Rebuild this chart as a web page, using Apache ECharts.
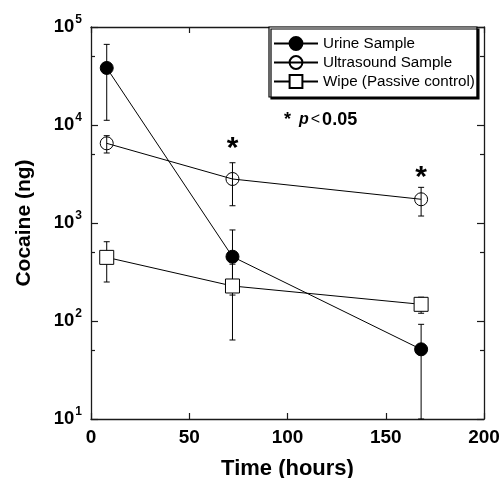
<!DOCTYPE html>
<html><head><meta charset="utf-8">
<script src="https://cdn.jsdelivr.net/npm/echarts@6/dist/echarts.min.js"></script>
<style>html,body{margin:0;padding:0;background:#fff}#c{width:500px;height:478px}</style>
</head><body><div id="c"></div>
<script>
// ---- data ----
const hours = [8, 72, 168];
const urineMean = [38200, 453, 51.4];
const urineLow = [11170, 184, 10];
const urineHigh = [66500, 849, 92.5];
const ultraMean = [6500, 2812, 1746];
const ultraLow = [5180, 1500, 1178];
const ultraHigh = [7780, 4120, 2312];
const wipeMean = [446, 227.6, 148];
const wipeLow = [250, 64, 120];
const wipeHigh = [644, 380, 175];
const starHours = [72, 168];
const starLevels = [6550, 3311];
const xTicks = [0, 50, 100, 150, 200];
const yMinorTicks = [50, 500, 5000, 50000];

const FONT = 'Liberation Sans, Arial, Helvetica, sans-serif';
const AX = '#1a1a1a';

function pairs(xs, ys){ return xs.map((x,i)=>[x, ys[i]]); }
function errData(lo, hi){ return hours.map((x,i)=>[x, lo[i], hi[i]]); }

function errRender(params, api){
  const x = api.value(0), lo = api.value(1), hi = api.value(2);
  const pLo = api.coord([x, lo]), pHi = api.coord([x, hi]);
  const c = 3;
  const st = {stroke: '#000', lineWidth: 1};
  return {type:'group', children:[
    {type:'line', shape:{x1:pLo[0], y1:pLo[1], x2:pHi[0], y2:pHi[1]}, style:st},
    {type:'line', shape:{x1:pLo[0]-c, y1:pLo[1], x2:pLo[0]+c, y2:pLo[1]}, style:st},
    {type:'line', shape:{x1:pHi[0]-c, y1:pHi[1], x2:pHi[0]+c, y2:pHi[1]}, style:st}
  ]};
}

const axisLineStyle = {show: true, onZero: false, lineStyle: {color: AX, width: 1.3}};

const chart = echarts.init(document.getElementById('c'));
const option = {
  animation: false,
  backgroundColor: '#fff',
  grid: {left: 91, top: 27, right: 16, bottom: 59, containLabel: false, outerBoundsMode: 'none'},
  title: {
    text: '{s|*}{p|p}{l|<}{t|0.05}',
    left: 279, top: 106,
    textStyle: {rich: {
      s: {fontFamily: FONT, fontWeight: 'bold', fontSize: 18, color: '#000', padding: [0, 8, 0, 0]},
      p: {fontFamily: FONT, fontWeight: 'bold', fontStyle: 'italic', fontSize: 16, color: '#000', padding: [0, 2, 0, 0]},
      l: {fontFamily: FONT, fontWeight: 'normal', fontSize: 16, color: '#000', padding: [0, 2, 0, 0]},
      t: {fontFamily: FONT, fontWeight: 'bold', fontSize: 18, color: '#000'}
    }}
  },
  legend: {
    orient: 'vertical', left: 269, top: 27, align: 'left',
    padding: [9, 2, 8, 4],
    itemWidth: 44, itemHeight: 16, itemGap: 4, itemTextGap: 3,
    backgroundColor: '#fff',
    borderColor: '#000', borderWidth: 1.2, borderRadius: 0,
    shadowColor: '#000', shadowBlur: 0, shadowOffsetX: 2, shadowOffsetY: 2,
    textStyle: {fontFamily: FONT, fontSize: 15.2, color: '#000'},
    data: ['Urine Sample', 'Ultrasound Sample', 'Wipe (Passive control)']
  },
  xAxis: [{
    type: 'value', min: 0, max: 200, interval: 50,
    name: 'Time (hours)', nameLocation: 'middle', nameGap: 39,
    nameTextStyle: {fontFamily: FONT, fontWeight: 'bold', fontSize: 22, color: '#000'},
    axisLine: axisLineStyle,
    axisTick: {show: true, inside: true, length: 6, lineStyle: {color: AX, width: 1.2}},
    axisLabel: {fontFamily: FONT, fontWeight: 'bold', fontSize: 19, color: '#000', margin: 9},
    splitLine: {show: false}
  }, {
    type: 'value', min: 0, max: 200, interval: 50, position: 'top',
    axisLine: axisLineStyle,
    axisTick: {show: true, inside: true, length: 6, lineStyle: {color: AX, width: 1.2}},
    axisLabel: {show: false}, splitLine: {show: false}
  }],
  yAxis: [{
    type: 'log', logBase: 10, min: 10, max: 100000,
    name: 'Cocaine (ng)', nameLocation: 'middle', nameGap: 56, nameRotate: 90,
    nameTextStyle: {fontFamily: FONT, fontWeight: 'bold', fontSize: 21, color: '#000'},
    axisLine: axisLineStyle,
    axisTick: {show: true, inside: true, length: 7, lineStyle: {color: AX, width: 1.2}},
    axisLabel: {
      margin: 9,
      formatter: v => '{b|10}{s|' + Math.round(Math.log10(v)) + '}',
      rich: {
        b: {fontFamily: FONT, fontWeight: 'bold', fontSize: 18.5, color: '#000'},
        s: {fontFamily: FONT, fontWeight: 'bold', fontSize: 12, color: '#000', padding: [0, 0, 15, 1]}
      }
    },
    splitLine: {show: false}, minorTick: {show: false}
  }, {
    type: 'log', logBase: 10, min: 10, max: 100000, position: 'right',
    axisLine: axisLineStyle,
    axisTick: {show: true, inside: true, length: 7, lineStyle: {color: AX, width: 1.2}},
    axisLabel: {show: false}, splitLine: {show: false}
  }],
  series: [
    {type: 'custom', name: 'minor', xAxisIndex: 0, yAxisIndex: 0, silent: true, z: 1,
      data: yMinorTicks.map(v => [0, v]),
      renderItem: (params, api) => {
        const v = api.value(1);
        const l = api.coord([0, v]), r = api.coord([200, v]);
        const st = {stroke: AX, lineWidth: 1.2};
        return {type: 'group', children: [
          {type: 'line', shape: {x1: l[0], y1: l[1], x2: l[0] + 4, y2: l[1]}, style: st},
          {type: 'line', shape: {x1: r[0] - 4, y1: r[1], x2: r[0], y2: r[1]}, style: st}
        ]};
      }
    },
    {type: 'custom', name: 'eu', xAxisIndex: 0, yAxisIndex: 0, z: 2, silent: true,
      data: errData(urineLow, urineHigh), renderItem: errRender, encode: {x: 0, y: [1, 2]}},
    {type: 'custom', name: 'ew', xAxisIndex: 0, yAxisIndex: 0, z: 2, silent: true,
      data: errData(wipeLow, wipeHigh), renderItem: errRender, encode: {x: 0, y: [1, 2]}},
    {type: 'line', name: 'Urine Sample', xAxisIndex: 0, yAxisIndex: 0, z: 3,
      data: pairs(hours, urineMean), symbol: 'circle', symbolSize: 13,
      lineStyle: {color: '#000', width: 1},
      itemStyle: {color: '#000', borderColor: '#000', borderWidth: 1}},
    {type: 'line', name: 'Ultrasound Sample', xAxisIndex: 0, yAxisIndex: 0, z: 3,
      data: pairs(hours, ultraMean), symbol: 'circle', symbolSize: 13,
      lineStyle: {color: '#000', width: 1},
      itemStyle: {color: 'rgba(255,255,255,0)', borderColor: '#000', borderWidth: 1}},
    {type: 'line', name: 'Wipe (Passive control)', xAxisIndex: 0, yAxisIndex: 0, z: 3,
      data: pairs(hours, wipeMean), symbol: 'rect', symbolSize: 14,
      lineStyle: {color: '#000', width: 1},
      itemStyle: {color: '#fff', borderColor: '#000', borderWidth: 1}},
    {type: 'custom', name: 'eus', xAxisIndex: 0, yAxisIndex: 0, z: 4, silent: true,
      data: errData(ultraLow, ultraHigh), renderItem: errRender, encode: {x: 0, y: [1, 2]}},
    {type: 'custom', name: 'stars', xAxisIndex: 0, yAxisIndex: 0, z: 5, silent: true,
      data: pairs(starHours, starLevels),
      renderItem: (params, api) => {
        const p = api.coord([api.value(0), api.value(1)]);
        return {type: 'text', x: p[0], y: p[1] + 6, style: {
          text: '*', fontFamily: FONT, fontWeight: 'bold', fontSize: 30, fill: '#000',
          align: 'center', verticalAlign: 'middle'}};
      }
    }
  ]
};
chart.setOption(option);
</script></body></html>
